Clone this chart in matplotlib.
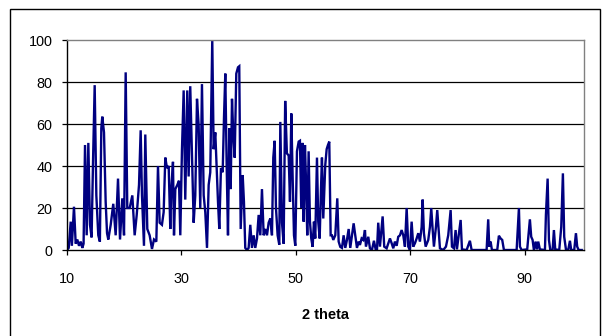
import matplotlib
matplotlib.use("Agg")
import matplotlib.pyplot as plt
from matplotlib.patches import Rectangle

two_theta = [
    10.0, 10.3, 10.65, 10.85, 11.22, 11.52, 11.8, 12.1, 12.4, 12.68, 12.9,
    13.15, 13.44, 13.73, 14.02, 14.3, 14.55, 14.84, 15.13, 15.47, 15.75,
    16.0, 16.17, 16.47, 16.76, 17.0, 17.22, 17.64, 18.09, 18.51, 18.92,
    19.27, 19.67, 19.97, 20.26, 20.54, 20.96, 21.42, 21.83, 22.19, 22.59,
    22.88, 23.11, 23.46, 23.69, 24.04, 24.45, 24.86, 25.21, 25.62, 25.91,
    26.2, 26.6, 26.9, 27.19, 27.48, 27.78, 28.06, 28.24, 28.53, 28.71,
    28.94, 29.29, 29.58, 29.81, 30.1, 30.4, 30.68, 31.03, 31.27, 31.55,
    31.85, 32.15, 32.43, 32.73, 33.02, 33.3, 33.6, 33.9, 34.18, 34.48,
    34.77, 35.05, 35.2, 35.4, 35.64, 35.93, 36.22, 36.4, 36.63, 36.92,
    37.22, 37.45, 37.68, 37.92, 38.15, 38.38, 38.62, 38.85, 39.08, 39.32,
    39.6, 39.9, 40.12, 40.37, 40.72, 40.94, 41.17, 41.47, 41.76, 42.05,
    42.34, 42.64, 42.92, 43.22, 43.51, 43.8, 44.09, 44.39, 44.67, 44.97,
    45.26, 45.55, 45.84, 46.07, 46.31, 46.54, 46.83, 47.12, 47.3, 47.59,
    47.88, 48.15, 48.45, 48.76, 48.99, 49.22, 49.46, 49.69, 49.92, 50.21,
    50.51, 50.73, 50.96, 51.2, 51.38, 51.61, 51.78, 52.01, 52.25, 52.48,
    52.71, 52.95, 53.18, 53.41, 53.71, 53.93, 54.18, 54.41, 54.58, 54.81,
    55.16, 55.4, 55.63, 55.86, 56.1, 56.33, 56.56, 56.91, 57.26, 57.5,
    57.78, 58.08, 58.37, 58.66, 58.95, 59.25, 59.53, 59.83, 60.12, 60.4,
    60.7, 60.99, 61.22, 61.52, 61.8, 62.1, 62.27, 62.68, 62.97, 63.32,
    63.67, 63.97, 64.2, 64.42, 64.72, 65.19, 65.47, 65.89, 66.47, 66.77,
    67.05, 67.34, 67.64, 67.92, 68.22, 68.51, 68.8, 69.09, 69.39, 69.67,
    69.97, 70.26, 70.54, 70.84, 71.14, 71.42, 71.71, 72.01, 72.19, 72.41,
    72.71, 73.17, 73.46, 73.69, 73.93, 74.16, 74.51, 74.74, 74.98, 75.21,
    75.79, 76.26, 76.66, 77.08, 77.31, 77.66, 77.95, 78.18, 78.83, 79.06,
    79.88, 80.45, 80.75, 83.37, 83.65, 83.83, 84.07, 84.3, 85.23, 85.52,
    85.82, 86.1, 86.4, 88.62, 89.02, 89.2, 89.49, 90.47, 90.94, 91.17,
    91.41, 91.64, 91.94, 92.17, 92.4, 92.69, 93.57, 93.74, 94.04, 94.27,
    94.5, 94.91, 95.14, 95.37, 96.07, 96.42, 96.71, 96.94, 97.24, 97.64,
    97.94, 98.16, 98.69, 98.99, 99.21, 99.46, 100.0,
]

intensity = [
    0, 1, 13.5, 2, 20.6, 3, 5, 2, 4, 1, 3,
    50, 7, 51, 12, 6, 42, 78.5, 26, 7, 4,
    58, 63.5, 56, 23, 8, 5, 12, 22, 7, 34,
    5, 24.6, 7, 84.6, 20, 20, 26, 7, 16.7, 31,
    57, 26, 2, 55, 10, 7, 0.5, 5, 4, 40,
    13, 12, 18, 44, 39, 40, 10, 29, 42, 7,
    29, 31, 33, 7, 47.6, 76, 24, 76, 35, 78,
    45, 13, 26, 72, 59.5, 20, 79, 26, 18, 1,
    31, 37, 64, 100, 48, 56, 36, 23, 10, 39,
    37, 63, 84, 40, 7, 58, 29, 72, 55, 44,
    84, 87, 87.5, 10, 35.7, 23, 1, 0, 1, 12,
    1, 7, 1, 5.5, 16.7, 7, 29, 7, 10, 7,
    13, 15, 7, 44, 52, 20, 7, 2.5, 61, 13,
    3, 71, 46, 45, 23, 65, 34, 7, 2, 47,
    51.6, 52, 20, 51, 13.5, 50, 34, 7, 47, 13.5,
    5.5, 1.5, 13.5, 5.5, 44, 13.5, 5.5, 29, 44, 15,
    40.5, 48, 50, 51.6, 7, 7, 4.8, 7, 24.6, 4,
    1.5, 1, 7, 1, 4.8, 10, 1, 7, 12.7, 7,
    1, 4, 2.4, 5.5, 4.8, 9.5, 1.6, 6.3, 0.8, 0,
    4.4, 0.3, 0, 13, 1.6, 16, 1.6, 0.8, 5.5, 3.2,
    0.8, 4, 2, 6.3, 7, 9.5, 7, 1.6, 20, 1.6,
    0, 13.5, 1.6, 3.2, 5.5, 8, 4, 11, 24, 8,
    1.6, 4.8, 11, 20, 10, 1.6, 11, 19, 9.5, 0.8,
    0, 1.6, 7, 19, 1.6, 0.8, 9.5, 0.3, 14.3, 0.3,
    0, 4.4, 0, 0, 14.6, 1.6, 4, 0, 0, 6.8,
    5.5, 4.8, 0, 0, 20, 1.6, 0, 0.3, 14.6, 6.3,
    4.8, 0, 4, 0.3, 4, 0.3, 0, 16.7, 34, 4.8,
    0, 0, 9.5, 0.3, 0, 11, 36.5, 6.3, 0.3, 0,
    4.4, 0, 0, 8, 1.6, 0, 0,
]

x_ticks = [10, 30, 50, 70, 90]
y_ticks = [0, 20, 40, 60, 80, 100]
x_label = "2 theta"

plt.rcParams['font.family'] = ['Liberation Sans', 'DejaVu Sans']

W, H = 608, 336
fig = plt.figure(figsize=(W / 100, H / 100), dpi=100)
fig.patch.set_facecolor('white')

left_px, right_px, top_px, bottom_px = 67, 584, 40, 250
ax = fig.add_axes([left_px / W, 1 - bottom_px / H,
                   (right_px - left_px) / W, (bottom_px - top_px) / H])

ax.plot(two_theta, intensity, color='#000080', lw=1.7, solid_joinstyle='miter')
ax.set_xlim(10, 100.4)
ax.set_ylim(0, 100)
ax.set_xticks(x_ticks)
ax.set_yticks(y_ticks)

for y in y_ticks[1:-1]:
    ax.axhline(y, color='black', lw=0.9, zorder=0)

for s in ['top', 'right']:
    ax.spines[s].set_color('#808080')
    ax.spines[s].set_linewidth(1.0)
for s in ['left', 'bottom']:
    ax.spines[s].set_color('black')
    ax.spines[s].set_linewidth(1.0)

ax.tick_params(axis='both', direction='out', length=3.5, width=0.9,
               labelsize=10.4, colors='black')
ax.tick_params(axis='y', pad=7)
ax.tick_params(axis='x', pad=12)

fig.text(325 / W, 1 - 315 / H, x_label, ha='center', va='center',
         fontweight='bold', fontsize=10.5)

fig.patches.append(Rectangle((10 / W, -0.05), 590 / W, 1.05 - 9 / H,
                             transform=fig.transFigure, fill=False,
                             edgecolor='black', lw=1.0))

fig.savefig('out.png', dpi=100)
